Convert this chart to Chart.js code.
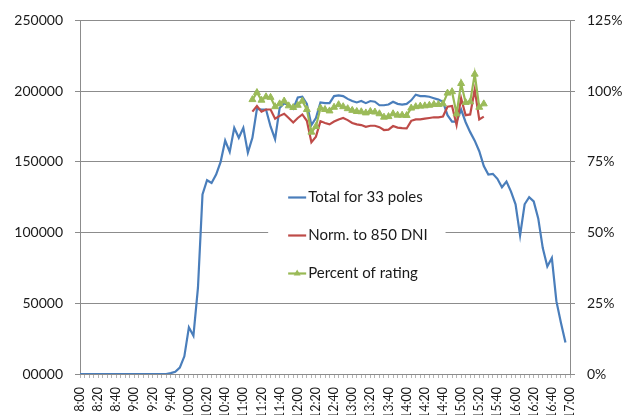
<!DOCTYPE html>
<html>
<head>
<meta charset="utf-8">
<script src="https://cdn.jsdelivr.net/npm/chart.js@4.4.0/dist/chart.umd.min.js"></script>
<style>
html,body{margin:0;padding:0;background:#fff;}
#wrap{width:631px;height:415px;}
</style>
</head>
<body>
<div id="wrap"><canvas id="c" width="631" height="415"></canvas></div>
<script>
const timeLabels = [
'8:00','8:05','8:10','8:15','8:20','8:25','8:30','8:35','8:40','8:45','8:50','8:55',
'9:00','9:05','9:10','9:15','9:20','9:25','9:30','9:35','9:40','9:45','9:50','9:55',
'10:00','10:05','10:10','10:15','10:20','10:25','10:30','10:35','10:40','10:45','10:50','10:55',
'11:00','11:05','11:10','11:15','11:20','11:25','11:30','11:35','11:40','11:45','11:50','11:55',
'12:00','12:05','12:10','12:15','12:20','12:25','12:30','12:35','12:40','12:45','12:50','12:55',
'13:00','13:05','13:10','13:15','13:20','13:25','13:30','13:35','13:40','13:45','13:50','13:55',
'14:00','14:05','14:10','14:15','14:20','14:25','14:30','14:35','14:40','14:45','14:50','14:55',
'15:00','15:05','15:10','15:15','15:20','15:25','15:30','15:35','15:40','15:45','15:50','15:55',
'16:00','16:05','16:10','16:15','16:20','16:25','16:30','16:35','16:40','16:45','16:50','16:55',
'17:00'];

const totalPoles = [
0,0,0,0,0,0,0,0,0,0,0,0,
0,0,0,0,0,0,0,0,600,1500,4500,12500,
33000,27000,61000,127000,137000,135000,141000,150000,165000,157000,174000,167000,
174000,156500,167000,187500,187000,187000,175000,166000,188000,191500,190000,187500,
195500,196000,191000,176000,181000,192000,191500,191500,196500,197000,196500,194500,
193000,192000,193000,191500,193000,192500,190000,190000,190500,192500,191000,190500,
191000,193500,197500,196500,196500,196000,195000,194000,192500,183000,178500,178500,
187000,178000,171000,165000,157500,147000,141000,141500,138000,132000,136000,129000,
120000,98000,120000,125000,122000,110000,89000,76000,82000,51500,36300,22300,
null];

const normTo850 = [
null,null,null,null,null,null,null,null,null,null,null,null,
null,null,null,null,null,null,null,null,null,null,null,null,
null,null,null,null,null,null,null,null,null,null,null,null,
null,null,185500,189500,185500,187000,187000,180500,182500,184000,181000,177800,
181000,183500,179000,163800,167800,178800,177500,176500,178500,180000,181000,179500,
177500,176500,176000,174800,175500,175500,174500,172500,172800,175300,174200,173800,
173600,179000,180000,180000,180500,181000,181500,181500,182000,189000,189500,176000,
195000,183000,183500,201000,180000,182000,null,null,null,null,null,null,
null,null,null,null,null,null,null,null,null,null,null,null,
null];

const percentOfRating = [
null,null,null,null,null,null,null,null,null,null,null,null,
null,null,null,null,null,null,null,null,null,null,null,null,
null,null,null,null,null,null,null,null,null,null,null,null,
null,null,97.0,99.5,96.8,98.0,97.8,94.5,95.5,96.5,94.8,94.2,
95.0,96.5,93.5,85.5,87.5,94.0,93.5,93.0,94.3,95.2,94.5,93.8,
93.2,92.8,92.7,92.3,92.8,92.6,92.0,90.8,91.0,92.0,91.5,91.5,
91.4,94.0,94.5,94.7,94.8,95.0,95.3,95.3,95.5,99.3,99.8,92.0,
102.7,96.0,96.2,106.0,94.3,95.5,null,null,null,null,null,null,
null,null,null,null,null,null,null,null,null,null,null,null,
null];

const seriesNames = ['Total for 33 poles','Norm. to 850 DNI','Percent of rating'];
const leftTickLabels = ['00000','50000','100000','150000','200000','250000'];
const rightTickLabels = ['0%','25%','50%','75%','100%','125%'];

const FONT = 'Lato, "Liberation Sans", sans-serif';
const TXT = '#1a1a1a';
const AXIS = '#8c8c8c';

const boxLegend = {
  id: 'boxLegend',
  beforeDatasetsDraw(chart, args, o) {
    const {ctx, chartArea: a} = chart;
    const bx = a.left + o.x * a.width, by = a.top + o.y * a.height;
    const bw = o.w * a.width, bh = o.h * a.height;
    ctx.save();
    ctx.fillStyle = '#ffffff';
    ctx.fillRect(bx, by, bw, bh);
    chart.data.datasets.forEach((ds, k) => {
      const cy = Math.round(by + o.firstRow + k * o.rowGap) + 0.5;
      const x0 = bx + o.padX;
      ctx.strokeStyle = ds.borderColor;
      ctx.lineWidth = ds.borderWidth;
      ctx.beginPath(); ctx.moveTo(x0, cy); ctx.lineTo(x0 + o.lineLen, cy); ctx.stroke();
      if (ds.pointStyle === 'triangle') {
        const r = ds.pointRadius, mx = x0 + o.lineLen / 2;
        ctx.fillStyle = ds.pointBackgroundColor;
        ctx.beginPath();
        ctx.moveTo(mx, cy - r);
        ctx.lineTo(mx + r * 0.87, cy + r * 0.5);
        ctx.lineTo(mx - r * 0.87, cy + r * 0.5);
        ctx.closePath(); ctx.fill();
      }
      ctx.fillStyle = TXT;
      ctx.font = o.fontSize + 'px ' + FONT;
      ctx.textBaseline = 'middle';
      ctx.textAlign = 'left';
      ctx.fillText(ds.label, x0 + o.lineLen + 2, cy);
    });
    ctx.restore();
  }
};

new Chart(document.getElementById('c'), {
  type: 'line',
  data: {
    labels: timeLabels,
    datasets: [
      { label: seriesNames[0], data: totalPoles, yAxisID: 'y', borderColor: '#4a7ebb', backgroundColor: '#4a7ebb',
        borderWidth: 2.2, pointRadius: 0, tension: 0, order: 3 },
      { label: seriesNames[1], data: normTo850, yAxisID: 'y', borderColor: '#be4b48', backgroundColor: '#be4b48',
        borderWidth: 2.2, pointRadius: 0, tension: 0, order: 2 },
      { label: seriesNames[2], data: percentOfRating, yAxisID: 'y1', borderColor: '#98b954', backgroundColor: '#9bbb59',
        borderWidth: 2.2, pointStyle: 'triangle', pointRadius: 4, pointBackgroundColor: '#9bbb59',
        pointBorderColor: '#9bbb59', pointBorderWidth: 1, tension: 0, order: 1 }
    ]
  },
  options: {
    responsive: false,
    animation: false,
    devicePixelRatio: 1,
    layout: { padding: { top: 17, left: 0, right: 0, bottom: 0 } },
    plugins: {
      legend: { display: false },
      tooltip: { enabled: false },
      boxLegend: { x: 0.384, y: 0.455, w: 0.362, h: 0.295, firstRow: 16, rowGap: 38, padX: 20, lineLen: 18, fontSize: 15 }
    },
    scales: {
      x: {
        type: 'category',
        offset: false,
        grid: { display: true, drawOnChartArea: false, drawTicks: true, tickLength: 4, color: '#b4b4b4' },
        border: { display: true, color: AXIS },
        ticks: {
          autoSkip: false, maxRotation: 90, minRotation: 90, padding: 9,
          color: TXT, font: { family: FONT, size: 12.5 },
          callback: (v, i) => (i % 4 === 0 ? timeLabels[i] : '')
        },
        afterFit: s => { s.height = 41; }
      },
      y: {
        position: 'left', min: 0, max: 250000,
        grid: { color: AXIS, tickLength: 5, drawTicks: true },
        border: { display: true, color: AXIS },
        ticks: { stepSize: 50000, padding: 12, color: TXT, font: { family: FONT, size: 14 },
          callback: (v, i) => leftTickLabels[i] },
        afterFit: s => { s.width = 80; }
      },
      y1: {
        position: 'right', min: 0, max: 125,
        grid: { drawOnChartArea: false, color: AXIS, tickLength: 5, drawTicks: true },
        border: { display: true, color: AXIS },
        ticks: { stepSize: 25, padding: 12, color: TXT, font: { family: FONT, size: 14 },
          callback: (v, i) => rightTickLabels[i] },
        afterFit: s => { s.width = 61; }
      }
    }
  },
  plugins: [boxLegend]
});
</script>
</body>
</html>
